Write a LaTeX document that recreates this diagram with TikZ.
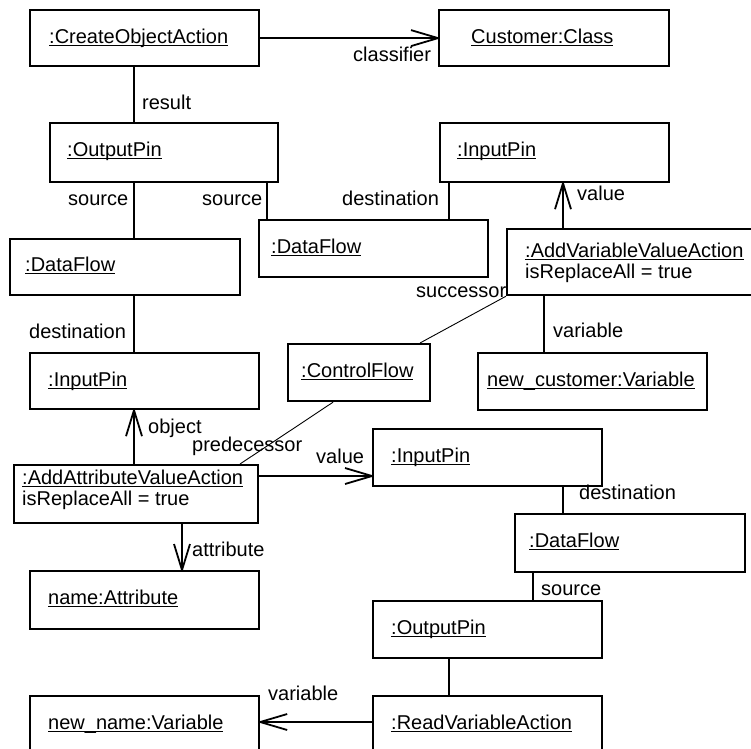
\documentclass[tikz,border=0pt]{standalone}
\usepackage{fontspec}
\setmainfont{Liberation Sans}
\usetikzlibrary{calc}

% underlined object name with a rule at a fixed depth
\newcommand\objname[1]{\setbox0=\hbox{#1}\rlap{\rule[-3.3pt]{\wd0}{1.4pt}}\box0}

\tikzset{
  obj/.style={draw, line width=2.2pt, rectangle, anchor=north west, inner sep=0pt},
  txt/.style={anchor=base west, inner sep=0pt, font=\fontsize{20pt}{21pt}\selectfont},
  lbl/.style={anchor=base west, inner sep=0pt, font=\fontsize{20pt}{21pt}\selectfont},
  link/.style={line width=2.2pt},
  thin/.style={line width=0.9pt},
  barb/.style={line width=1.8pt, line join=round}
}

\newcommand\objbox[5]{% name, x1, y1, x2, y2
  \node[obj, minimum width={#4-#2}, minimum height={#5-#3}] (#1) at (#2,#3) {};}

% open navigation tip: #1 tip point, #2/#3 offsets of the two barb ends
\newcommand\opentip[3]{\draw[barb] ($(#1)+(#2)$) -- (#1) -- ($(#1)+(#3)$);}

\begin{document}
\begin{tikzpicture}[x=1pt, y=-1pt]
\useasboundingbox (0,0) rectangle (751,748);
\clip (0,0) rectangle (751,748);

% object boxes
\objbox{coa}{29}{9}{258}{65}
\objbox{cls}{438}{9}{668}{65}
\objbox{opa}{49}{122}{277}{181}
\objbox{ipa}{439}{122}{668}{181}
\objbox{dfb}{258}{219}{487}{276}
\objbox{dfa}{9}{238}{239}{294}
\objbox{avva}{506}{228}{790}{294}
\objbox{ipb}{29}{352}{258}{408}
\objbox{cf}{287}{343}{429}{400}
\objbox{ncv}{477}{352}{706}{409}
\objbox{aava}{13}{464}{257}{522}
\objbox{ipc}{372}{428}{601}{485}
\objbox{dfc}{514}{513}{744}{571}
\objbox{nat}{29}{570}{258}{628}
\objbox{opb}{372}{600}{601}{657}
\objbox{nnv}{29}{695}{258}{790}
\objbox{rva}{372}{695}{601}{790}

% object names
\node[txt] (tcoa) at (49,43) {\objname{:CreateObjectAction}};
\node[txt] (tcls) at (471,43) {\objname{Customer:Class}};
\node[txt] (topa) at (67,156) {\objname{:OutputPin}};
\node[txt] (tipa) at (457,156) {\objname{:InputPin}};
\node[txt] (tdfb) at (271,253) {\objname{:DataFlow}};
\node[txt] (tdfa) at (25,271) {\objname{:DataFlow}};
\node[txt] (tavva) at (525,257) {\objname{:AddVariableValueAction}};
\node[txt] (aavva) at (525,278) {isReplaceAll = true};
\node[txt] (tipb) at (48,386) {\objname{:InputPin}};
\node[txt] (tcf) at (301,377) {\objname{:ControlFlow}};
\node[txt] (tncv) at (487,386) {\objname{new\_customer:Variable}};
\node[txt] (taava) at (22,484) {\objname{:AddAttributeValueAction}};
\node[txt] (aaava) at (22,505) {isReplaceAll = true};
\node[txt] (tipc) at (391,462) {\objname{:InputPin}};
\node[txt] (tdfc) at (529,547) {\objname{:DataFlow}};
\node[txt] (tnat) at (48,604) {\objname{name:Attribute}};
\node[txt] (topb) at (391,634) {\objname{:OutputPin}};
\node[txt] (tnnv) at (48,729) {\objname{new\_name:Variable}};
\node[txt] (trva) at (391,729) {\objname{:ReadVariableAction}};

% end points of the navigable links
\coordinate (hcls) at (cls.west);
\coordinate (hipa) at (ipa.south -| 563,0);
\coordinate (hipb) at (ipb.south -| 134,0);
\coordinate (hipc) at (ipc.west |- 0,476);
\coordinate (hnat) at (nat.north -| 182,0);
\coordinate (hnnv) at (nnv.east |- 0,722);

% links
\draw[link] (coa.east) -- (hcls);
\draw[link] (coa.south -| 134,0) -- (opa.north -| 134,0);
\draw[link] (opa.south -| 134,0) -- (dfa.north -| 134,0);
\draw[link] (opa.south -| 267,0) -- (dfb.north -| 267,0);
\draw[link] (ipa.south -| 449,0) -- (dfb.north -| 449,0);
\draw[link] (avva.north -| 563,0) -- (hipa);
\draw[link] (avva.south -| 544,0) -- (ncv.north -| 544,0);
\draw[thin] (avva.south west) -- (cf.north -| 420,0);
\draw[thin] (cf.south -| 333,0) -- (aava.north -| 240,0);
\draw[link] (dfa.south -| 134,0) -- (ipb.north -| 134,0);
\draw[link] (aava.north -| 134,0) -- (hipb);
\draw[link] (aava.east |- 0,476) -- (hipc);
\draw[link] (aava.south -| 182,0) -- (hnat);
\draw[link] (ipc.south -| 563,0) -- (dfc.north -| 563,0);
\draw[link] (dfc.south -| 533,0) -- (opb.north -| 533,0);
\draw[link] (opb.south -| 449,0) -- (rva.north -| 449,0);
\draw[link] (rva.west |- 0,722) -- (hnnv);

% open arrowheads
\opentip{hcls}{-27,-8}{-27,8}
\opentip{hipa}{-8,26}{8,26}
\opentip{hipb}{-8,26}{8,26}
\opentip{hipc}{-27,-8}{-27,8}
\opentip{hnat}{-8,-26}{8,-26}
\opentip{hnnv}{27,-8}{27,8}

% role names
\node[lbl] (lcls) at (353,61) {classifier};
\node[lbl] (lres) at (142,109) {result};
\node[lbl] (lsa) at (68,205) {source};
\node[lbl] (lsb) at (202,205) {source};
\node[lbl] (lda) at (342,205) {destination};
\node[lbl] (lva) at (577,200) {value};
\node[lbl] (lsuc) at (416,297) {successor};
\node[lbl] (lvb) at (553,337) {variable};
\node[lbl] (ldb) at (29,338) {destination};
\node[lbl] (lobj) at (148,433) {object};
\node[lbl] (lpre) at (192,451) {predecessor};
\node[lbl] (lvc) at (316,463) {value};
\node[lbl] (latt) at (192,556) {attribute};
\node[lbl] (ldc) at (579,499) {destination};
\node[lbl] (lsc) at (541,595) {source};
\node[lbl] (lvd) at (268,700) {variable};
\end{tikzpicture}
\end{document}
